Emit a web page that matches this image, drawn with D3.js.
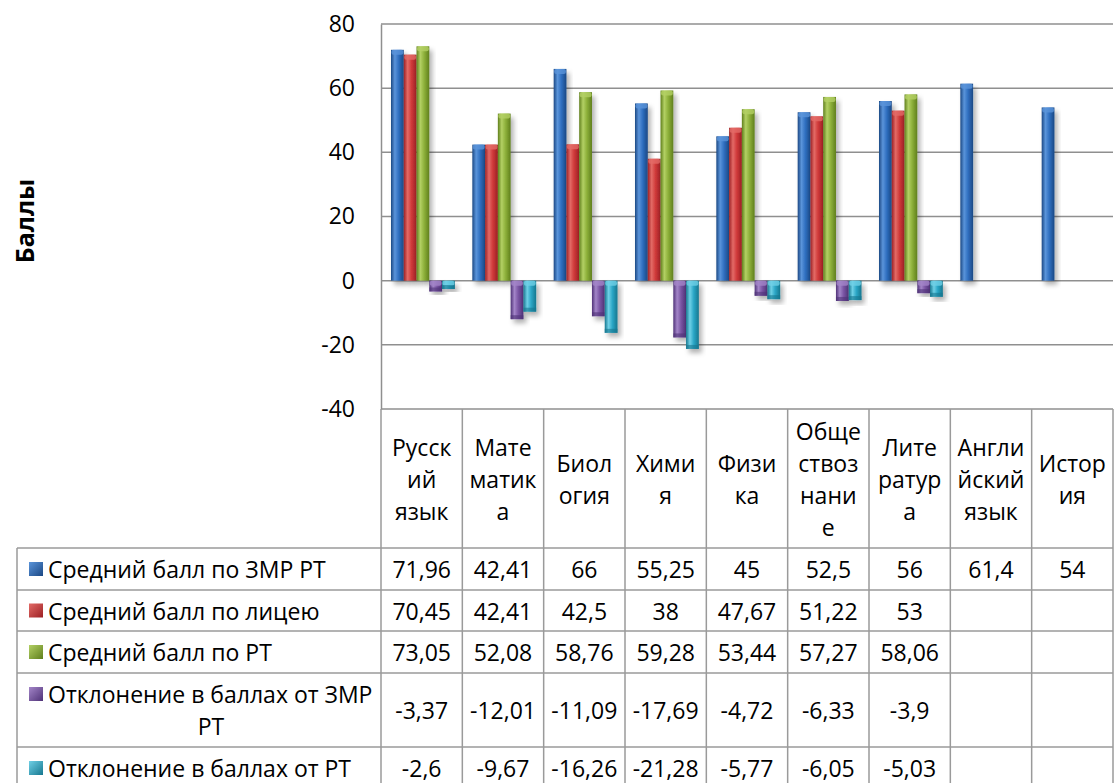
<!DOCTYPE html>
<html>
<head>
<meta charset="utf-8">
<script src="https://cdn.jsdelivr.net/npm/d3@7"></script>
<style>
  body { margin: 0; background: #fff; }
  svg { display: block; font-family: "Open Sans", "Noto Sans", sans-serif; }
</style>
</head>
<body>
<div id="chart"></div>
<script>
// Data
const categories = ["Русский язык", "Математика", "Биология", "Химия", "Физика",
  "Обществознание", "Литература", "Английский язык", "История"];
// how the header cells wrap in the data table
const headerLines = [["Русск", "ий", "язык"], ["Мате", "матик", "а"], ["Биол", "огия"],
  ["Хими", "я"], ["Физи", "ка"], ["Обще", "ствоз", "нани", "е"], ["Лите", "ратур", "а"],
  ["Англи", "йский", "язык"], ["Истор", "ия"]];
const seriesNames = ["Средний балл по ЗМР РТ", "Средний балл по лицею", "Средний балл по РТ",
  "Отклонение в баллах от ЗМР РТ", "Отклонение в баллах от РТ"];
const legendLines = [["Средний балл по ЗМР РТ"], ["Средний балл по лицею"], ["Средний балл по РТ"],
  ["Отклонение в баллах от ЗМР", "РТ"], ["Отклонение в баллах от РТ"]];
const zmrValues = [71.96, 42.41, 66, 55.25, 45, 52.5, 56, 61.4, 54];
const lyceumValues = [70.45, 42.41, 42.5, 38, 47.67, 51.22, 53, null, null];
const rtValues = [73.05, 52.08, 58.76, 59.28, 53.44, 57.27, 58.06, null, null];
const devZmrValues = [-3.37, -12.01, -11.09, -17.69, -4.72, -6.33, -3.9, null, null];
const devRtValues = [-2.6, -9.67, -16.26, -21.28, -5.77, -6.05, -5.03, null, null];
const yTicks = [-40, -20, 0, 20, 40, 60, 80];

const seriesValues = [zmrValues, lyceumValues, rtValues, devZmrValues, devRtValues];
// dark, mid, light for each series
const colours = [
  ["#1b4884", "#2f6fc0", "#5a94da"],
  ["#9c2024", "#d03a3a", "#e36a66"],
  ["#5f7f1c", "#8db03a", "#b3d064"],
  ["#4f3277", "#7a55a4", "#a385c8"],
  ["#16778f", "#2ba6c6", "#6fd0e6"]
];

const W = 1115, H = 783;
const plotLeft = 381, plotRight = 1113, plotTop = 24, plotBottom = 409;
const rowEdges = [548, 590, 631, 673, 747, 789];
const legendLeft = 17;
const fontSize = 23;

const svg = d3.select("#chart").append("svg")
  .attr("width", W).attr("height", H);

const defs = svg.append("defs");
colours.forEach((c, i) => {
  const g = defs.append("linearGradient").attr("id", "bar" + i)
    .attr("x1", "0%").attr("x2", "100%").attr("y1", "0%").attr("y2", "0%");
  g.append("stop").attr("offset", "0%").attr("stop-color", c[0]);
  g.append("stop").attr("offset", "30%").attr("stop-color", c[2]);
  g.append("stop").attr("offset", "60%").attr("stop-color", c[1]);
  g.append("stop").attr("offset", "100%").attr("stop-color", c[0]);
  const k = defs.append("linearGradient").attr("id", "key" + i)
    .attr("x1", "0%").attr("x2", "100%").attr("y1", "0%").attr("y2", "100%");
  k.append("stop").attr("offset", "0%").attr("stop-color", c[2]);
  k.append("stop").attr("offset", "100%").attr("stop-color", c[0]);
});
const shadow = defs.append("filter").attr("id", "shadow")
  .attr("x", "-50%").attr("y", "-20%").attr("width", "200%").attr("height", "150%");
shadow.append("feDropShadow").attr("dx", 3).attr("dy", 4)
  .attr("stdDeviation", 2.5).attr("flood-color", "#000").attr("flood-opacity", 0.3);

// Scales
const x = d3.scaleBand().domain(categories).range([plotLeft, plotRight]).padding(0);
const xInner = d3.scaleBand().domain(d3.range(5)).range([10, x.bandwidth() - 7.5]).padding(0);
const y = d3.scaleLinear().domain([-40, 80]).range([plotBottom, plotTop]);

const gridColour = "#8f8f8f";

// Gridlines
svg.append("g")
  .selectAll("line")
  .data(yTicks)
  .join("line")
  .attr("x1", plotLeft).attr("x2", plotRight)
  .attr("y1", d => y(d)).attr("y2", d => y(d))
  .attr("stroke", gridColour).attr("stroke-width", 1.5);

// Y axis labels
const yAxis = svg.append("g")
  .attr("transform", `translate(${plotLeft},0)`)
  .call(d3.axisLeft(y).tickValues(yTicks).tickSize(0).tickPadding(26)
    .tickFormat(d => String(d)));
yAxis.select(".domain").attr("stroke", gridColour).attr("stroke-width", 1.5);
yAxis.selectAll("text")
  .attr("font-family", "'Open Sans', sans-serif")
  .attr("font-size", fontSize).attr("fill", "#000");

// Axis title
svg.append("text")
  .attr("transform", "translate(24,221) rotate(-90)")
  .attr("text-anchor", "middle").attr("dominant-baseline", "central")
  .attr("font-size", 25).attr("font-weight", "bold")
  .text("Баллы");

// Bars
const barData = [];
seriesValues.forEach((vals, s) => {
  vals.forEach((v, c) => {
    if (v !== null) barData.push({ s, c, v });
  });
});
const bars = svg.append("g").selectAll("g")
  .data(barData)
  .join("g")
  .attr("transform", d => `translate(${x(categories[d.c]) + xInner(d.s)},0)`);
const bw = xInner.bandwidth();
bars.append("rect")
  .attr("x", 0).attr("width", bw)
  .attr("y", d => y(Math.max(0, d.v)))
  .attr("height", d => Math.abs(y(d.v) - y(0)))
  .attr("fill", d => `url(#bar${d.s})`)
  .attr("filter", "url(#shadow)");
// light cap at the top of each bar
bars.append("rect")
  .attr("x", 0.5).attr("width", bw - 1)
  .attr("y", d => y(Math.max(0, d.v)))
  .attr("height", 5).attr("rx", 2)
  .attr("fill", d => colours[d.s][2]).attr("opacity", 0.8);
// darker foot on the negative bars
bars.filter(d => d.v < 0).append("rect")
  .attr("x", 0).attr("width", bw)
  .attr("y", d => y(d.v) - 4).attr("height", 4)
  .attr("fill", d => colours[d.s][0]).attr("opacity", 0.6);

// Data table
const table = svg.append("g");
const lineStyle = sel => sel.attr("stroke", "#9a9a9a").attr("stroke-width", 1.5);

// horizontal lines
rowEdges.forEach(yy => {
  table.append("line").attr("x1", legendLeft).attr("x2", plotRight)
    .attr("y1", yy).attr("y2", yy).call(lineStyle);
});
// vertical lines
const colEdges = categories.map(c => x(c)).concat([plotRight]);
colEdges.forEach(xx => {
  table.append("line").attr("x1", xx).attr("x2", xx)
    .attr("y1", plotBottom).attr("y2", rowEdges[rowEdges.length - 1]).call(lineStyle);
});
table.append("line").attr("x1", legendLeft).attr("x2", legendLeft)
  .attr("y1", rowEdges[0]).attr("y2", rowEdges[rowEdges.length - 1]).call(lineStyle);

// header cells
const lineGap = 32;
categories.forEach((c, i) => {
  const lines = headerLines[i];
  const cy = (plotBottom + rowEdges[0]) / 2;
  lines.forEach((t, j) => {
    table.append("text")
      .attr("x", x(c) + x.bandwidth() / 2)
      .attr("y", cy + (j - (lines.length - 1) / 2) * lineGap)
      .attr("text-anchor", "middle").attr("dominant-baseline", "central")
      .attr("font-size", fontSize)
      .text(t);
  });
});

// value cells and legend keys
const fmt = v => String(v).replace(".", ",");
seriesValues.forEach((vals, s) => {
  const cy = (rowEdges[s] + rowEdges[s + 1]) / 2;
  const lines = legendLines[s];
  table.append("rect")
    .attr("x", 29).attr("y", (lines.length > 1 ? cy - 16 : cy) - 7)
    .attr("width", 14).attr("height", 14)
    .attr("fill", `url(#key${s})`);
  lines.forEach((t, j) => {
    const ly = cy + (j - (lines.length - 1) / 2) * lineGap;
    table.append("text")
      .attr("x", j === 0 ? 48 : 211)
      .attr("y", ly)
      .attr("text-anchor", j === 0 ? "start" : "middle")
      .attr("dominant-baseline", "central")
      .attr("font-size", fontSize)
      .text(t);
  });
  vals.forEach((v, c) => {
    if (v === null) return;
    table.append("text")
      .attr("x", x(categories[c]) + x.bandwidth() / 2)
      .attr("y", cy)
      .attr("text-anchor", "middle").attr("dominant-baseline", "central")
      .attr("font-size", fontSize)
      .text(fmt(v));
  });
});
</script>
</body>
</html>
